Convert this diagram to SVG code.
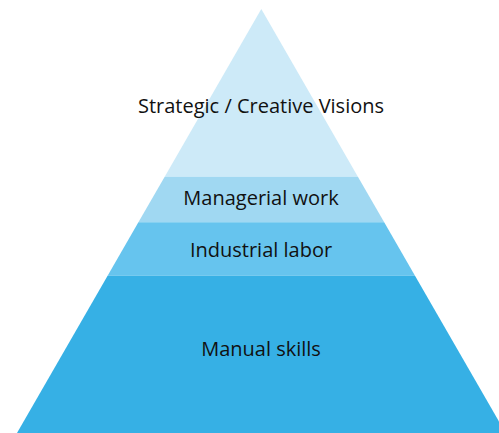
<svg xmlns="http://www.w3.org/2000/svg" width="499" height="433" viewBox="0 0 499 433">
<style>
text{font-family:"Open Sans","Noto Sans","DejaVu Sans",sans-serif;font-size:20px;fill:#111111;text-anchor:middle}
</style>
<rect width="499" height="433" fill="#ffffff"/>
<g id="strategic">
<polygon points="261.3,9 164.7,176.7 357.9,176.7" fill="#cdeaf8"/>
<text x="261" y="113">Strategic / Creative Visions</text>
</g>
<g id="managerial">
<polygon points="164.7,176.7 357.9,176.7 384.2,222.3 138.4,222.3" fill="#a0d8f2"/>
<text x="261" y="205">Managerial work</text>
</g>
<g id="industrial">
<polygon points="138.4,222.3 384.2,222.3 415,275.7 107.6,275.7" fill="#66c4ee"/>
<text x="261" y="256.5">Industrial labor</text>
</g>
<g id="manual">
<polygon points="107.6,275.7 415,275.7 505.6,433 17,433" fill="#36b0e5"/>
<text x="261" y="356">Manual skills</text>
</g>
<g id="connectors"/>
</svg>
